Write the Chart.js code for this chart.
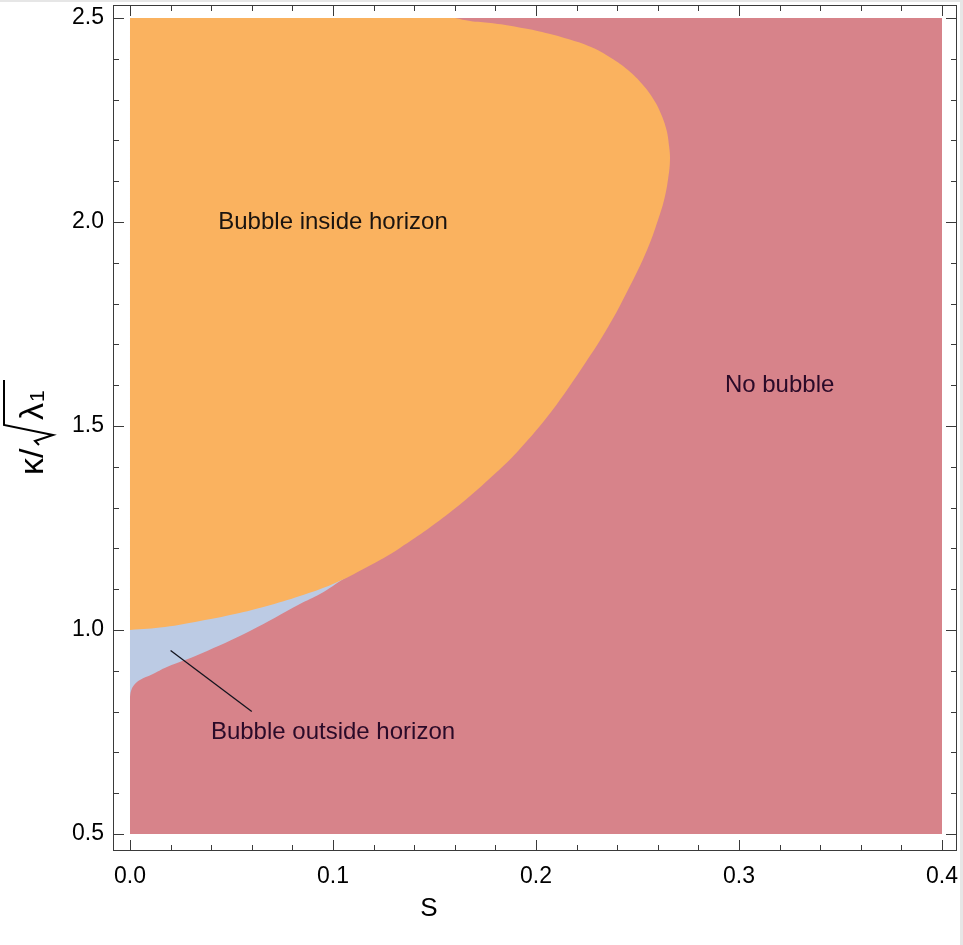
<!DOCTYPE html>
<html>
<head>
<meta charset="utf-8">
<script src="https://cdn.jsdelivr.net/npm/chart.js@4.4.1/dist/chart.umd.min.js"></script>
<style>
  html, body { margin: 0; padding: 0; background: #fff; }
  canvas { display: block; }
</style>
</head>
<body>
<canvas id="myChart" width="963" height="945"></canvas>
<script>
// axis ticks
const xTicks = [0.0, 0.1, 0.2, 0.3, 0.4];
const yTicks = [0.5, 1.0, 1.5, 2.0, 2.5];
const xMinorStep = 0.02;
const yMinorStep = 0.1;

// whole plotted domain (No bubble), filled from S = 0
const domainK = [0.5, 2.5];
const domainS = [0.4, 0.4];

// Bubble inside horizon: right edge S(kappa), filled from S = 0
const insideK = [1.0, 1.0074, 1.0221, 1.0392, 1.0588, 1.0833, 1.1127, 1.1544, 1.2010, 1.2941, 1.3922, 1.4412,
  1.5343, 1.6569, 1.7426, 1.8333, 1.9314, 2.0049, 2.0539, 2.1029, 2.1520, 2.1887, 2.2255, 2.2623, 2.2990,
  2.3358, 2.3725, 2.4020, 2.4289, 2.4485, 2.4657, 2.4779, 2.4877, 2.4926, 2.5];
const insideS = [0.0, 0.0172, 0.0345, 0.0517, 0.0675, 0.0837, 0.1, 0.1168, 0.1330, 0.1591, 0.1818, 0.1916,
  0.2074, 0.2246, 0.2355, 0.2453, 0.2547, 0.2601, 0.2631, 0.2650, 0.2660, 0.2655, 0.2643, 0.2618, 0.2581,
  0.2527, 0.2453, 0.2370, 0.2271, 0.2158, 0.2030, 0.1906, 0.1778, 0.1675, 0.1601];

// Bubble outside horizon: right edge S(kappa), filled from S = 0
const outsideK = [0.8358, 0.8505, 0.8652, 0.8775, 0.8909, 0.9093, 0.9412, 0.9976, 1.0637, 1.0882, 1.1275];
const outsideS = [0.0, 0.0005, 0.0020, 0.0049, 0.0108, 0.0182, 0.0345, 0.0591, 0.0837, 0.0936, 0.1059];

// region labels
const regionNames = ['Bubble inside horizon', 'No bubble', 'Bubble outside horizon'];
const regionS = [0.1, 0.32, 0.1];
const regionK = [2.0, 1.6, 0.75];
const regionColors = ['#1a1410', '#2a0a28', '#2a0a28'];

// pointer from label to the thin region
const pointerS = [0.02, 0.06];
const pointerK = [0.95, 0.8];

const toPoints = (xs, ys) => xs.map((v, i) => ({ x: v, y: ys[i] }));

const ORANGE = '#fab25f';
const PINK = '#d7838a';
const BLUE = '#bccbe4';
const FONT = '"Liberation Sans", Arial, sans-serif';

const decor = {
  id: 'decor',
  beforeDraw(chart) {
    const { ctx, width, height } = chart;
    ctx.save();
    ctx.fillStyle = '#e6e6e6';
    ctx.fillRect(0, 0, width, 2);
    ctx.fillRect(width - 3, 0, 3, height);
    ctx.restore();
  },
  afterDatasetsDraw(chart) {
    const { ctx, chartArea: a, scales } = chart;
    const sx = scales.x, sy = scales.y;

    ctx.save();
    // region labels
    ctx.font = '24px ' + FONT;
    ctx.textAlign = 'center';
    ctx.textBaseline = 'middle';
    regionNames.forEach((t, i) => {
      ctx.fillStyle = regionColors[i];
      ctx.fillText(t, sx.getPixelForValue(regionS[i]), sy.getPixelForValue(regionK[i]));
    });

    // pointer line
    ctx.strokeStyle = '#14141e';
    ctx.lineWidth = 1.3;
    ctx.beginPath();
    ctx.moveTo(sx.getPixelForValue(pointerS[0]), sy.getPixelForValue(pointerK[0]));
    ctx.lineTo(sx.getPixelForValue(pointerS[1]), sy.getPixelForValue(pointerK[1]));
    ctx.stroke();

    // frame
    ctx.strokeStyle = '#3a3a3a';
    ctx.lineWidth = 1;
    ctx.strokeRect(a.left + 0.5, a.top + 0.5, a.right - a.left - 1, a.bottom - a.top - 1);

    // ticks on all four sides, pointing inward
    const isMajor = (v, list) => list.some(t => Math.abs(t - v) < 1e-6);
    ctx.beginPath();
    for (let k = Math.ceil(sx.min / xMinorStep); k * xMinorStep <= sx.max; k++) {
      const v = k * xMinorStep;
      const px = Math.round(sx.getPixelForValue(v)) + 0.5;
      const len = isMajor(v, xTicks) ? 11 : 6;
      ctx.moveTo(px, a.bottom); ctx.lineTo(px, a.bottom - len);
      ctx.moveTo(px, a.top); ctx.lineTo(px, a.top + len);
    }
    for (let k = Math.ceil(sy.min / yMinorStep); k * yMinorStep <= sy.max; k++) {
      const v = k * yMinorStep;
      const py = Math.round(sy.getPixelForValue(v)) + 0.5;
      const len = isMajor(v, yTicks) ? 11 : 6;
      ctx.moveTo(a.left, py); ctx.lineTo(a.left + len, py);
      ctx.moveTo(a.right, py); ctx.lineTo(a.right - len, py);
    }
    ctx.stroke();

    // x axis title
    ctx.fillStyle = '#000';
    ctx.font = '26px ' + FONT;
    ctx.textAlign = 'center';
    ctx.textBaseline = 'middle';
    ctx.fillText('S', 429, 909);

    // y axis title: kappa / sqrt(lambda_1), rotated
    ctx.translate(43, (a.top + a.bottom) / 2);
    ctx.rotate(-Math.PI / 2);
    ctx.textAlign = 'left';
    ctx.textBaseline = 'alphabetic';
    ctx.font = '34px ' + FONT;
    ctx.fillText('κ/', -47, 0);
    const lamW = ctx.measureText('λ').width;
    ctx.fillText('λ', 8, 0);
    ctx.font = '21px ' + FONT;
    ctx.fillText('1', 8 + lamW + 1, 1);
    ctx.lineWidth = 2;
    ctx.strokeStyle = '#000';
    ctx.beginPath();
    ctx.moveTo(-17, -4);
    ctx.lineTo(-13, -8);
    ctx.lineTo(-7, 10);
    ctx.lineTo(3, -39);
    ctx.lineTo(48, -39);
    ctx.stroke();
    ctx.restore();
  }
};

const lineBase = { pointRadius: 0, borderWidth: 0, tension: 0.4 };

const chart = new Chart(document.getElementById('myChart'), {
  type: 'line',
  data: {
    datasets: [
      { ...lineBase, label: 'Bubble inside horizon', data: toPoints(insideS, insideK), backgroundColor: ORANGE, borderColor: ORANGE, fill: { value: 0 } },
      { ...lineBase, label: 'Bubble outside horizon', data: toPoints(outsideS, outsideK), backgroundColor: BLUE, borderColor: BLUE, fill: { value: 0 } },
      { ...lineBase, label: 'No bubble', data: toPoints(domainS, domainK), backgroundColor: PINK, borderColor: PINK, fill: { value: 0 }, tension: 0 }
    ]
  },
  options: {
    indexAxis: 'y',
    responsive: false,
    animation: false,
    layout: { padding: { top: 5, right: 6, left: 0, bottom: 0 } },
    plugins: {
      legend: { display: false },
      tooltip: { enabled: false },
      title: { display: false }
    },
    scales: {
      x: {
        type: 'linear',
        min: -0.00837,
        max: 0.40739,
        grid: { display: false, drawTicks: false },
        border: { display: false },
        afterBuildTicks: s => { s.ticks = xTicks.map(v => ({ value: v })); },
        afterFit: s => {
          s.height = 94;
          s.paddingLeft = 0; s.paddingRight = 0; s.paddingTop = 0; s.paddingBottom = 0;
        },
        ticks: {
          autoSkip: false,
          maxRotation: 0,
          padding: 12,
          color: '#000',
          font: { family: FONT, size: 23 },
          callback: v => Number(v).toFixed(1)
        }
      },
      y: {
        type: 'linear',
        min: 0.45833,
        max: 2.5319,
        grid: { display: false, drawTicks: false },
        border: { display: false },
        afterBuildTicks: s => { s.ticks = yTicks.map(v => ({ value: v })); },
        afterFit: s => {
          s.width = 113;
          s.paddingLeft = 0; s.paddingRight = 0; s.paddingTop = 0; s.paddingBottom = 0;
        },
        ticks: {
          autoSkip: false,
          padding: 9,
          color: '#000',
          font: { family: FONT, size: 23 },
          callback: v => Number(v).toFixed(1)
        }
      }
    }
  },
  plugins: [decor]
});
</script>
</body>
</html>
